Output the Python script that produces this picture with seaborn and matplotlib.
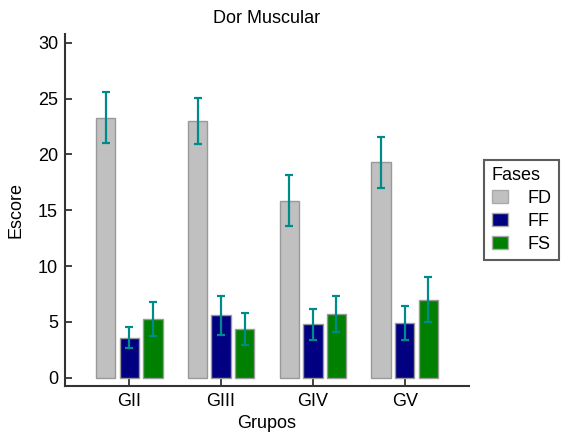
import matplotlib
matplotlib.use("Agg")
import matplotlib.pyplot as plt
import seaborn as sns
import pandas as pd
import numpy as np
from matplotlib.patches import Patch

groups = ["GII", "GIII", "GIV", "GV"]
phases = ["FD", "FF", "FS"]
fd_mean = [23.3, 23.0, 15.85, 19.3]
ff_mean = [3.6, 5.6, 4.8, 4.9]
fs_mean = [5.25, 4.35, 5.7, 6.98]
fd_err = [2.3, 2.06, 2.3, 2.3]
ff_err = [0.93, 1.75, 1.38, 1.5]
fs_err = [1.5, 1.43, 1.6, 2.0]
colors = ["#c0c0c0", "#000080", "#008000"]
yticks = [0, 5, 10, 15, 20, 25, 30]

means = {"FD": fd_mean, "FF": ff_mean, "FS": fs_mean}
errs = {"FD": fd_err, "FF": ff_err, "FS": fs_err}
rows = []
for p in phases:
    for g, m in zip(groups, means[p]):
        rows.append({"Grupos": g, "Fases": p, "Escore": m})
df = pd.DataFrame(rows)

sns.set_style("white")
plt.rcParams["font.family"] = ["Liberation Sans", "DejaVu Sans"]
plt.rcParams["text.color"] = "black"
plt.rcParams["axes.labelcolor"] = "black"
plt.rcParams["xtick.color"] = "black"
plt.rcParams["ytick.color"] = "black"
FS = 13

fig = plt.figure(figsize=(5.63, 4.43), dpi=100)
ax = fig.add_axes([65/563, 57/443, 404/563, 352/443])

sns.barplot(data=df, x="Grupos", y="Escore", hue="Fases", order=groups,
            hue_order=phases, palette=colors, saturation=1, errorbar=None,
            width=0.77, gap=0.18, edgecolor="#999999", linewidth=1.0, ax=ax,
            legend=False)

for cont, p in zip(ax.containers, phases):
    xs = [b.get_x() + b.get_width() / 2 for b in cont]
    ax.errorbar(xs, means[p], yerr=errs[p], fmt="none", ecolor="#008b8b",
                elinewidth=1.6, capsize=3.2, capthick=1.6, zorder=5)

ax.set_xlim(-0.70, 3.70)
ax.set_ylim(-0.74, 30.78)
ax.set_yticks(yticks)
ax.set_yticklabels([str(t) for t in yticks])
ax.set_title("Dor Muscular", fontsize=FS, pad=8)
ax.set_xlabel("Grupos", fontsize=FS, labelpad=4)
ax.set_ylabel("Escore", fontsize=FS, labelpad=10)
ax.tick_params(axis="both", direction="in", length=5, width=1.3,
               color="#333333", labelcolor="black", labelsize=FS,
               left=True, bottom=True, pad=5)
for s in ["top", "right"]:
    ax.spines[s].set_visible(False)
for s in ["left", "bottom"]:
    ax.spines[s].set_color("#333333")
    ax.spines[s].set_linewidth(1.5)

handles = [Patch(facecolor=c, edgecolor="#aaaaaa", linewidth=1.0) for c in colors]
leg = ax.legend(handles, phases, title="Fases", loc="upper left",
                bbox_to_anchor=(1.037, 0.643), borderaxespad=0,
                fancybox=False, frameon=True, edgecolor="#333333",
                fontsize=FS, title_fontsize=FS, handlelength=0.9,
                handleheight=0.75, handletextpad=1.1, labelspacing=0.32,
                borderpad=0.42)
leg.get_frame().set_linewidth(1.5)
leg._legend_box.align = "left"

fig.savefig("out.png", dpi=100)
